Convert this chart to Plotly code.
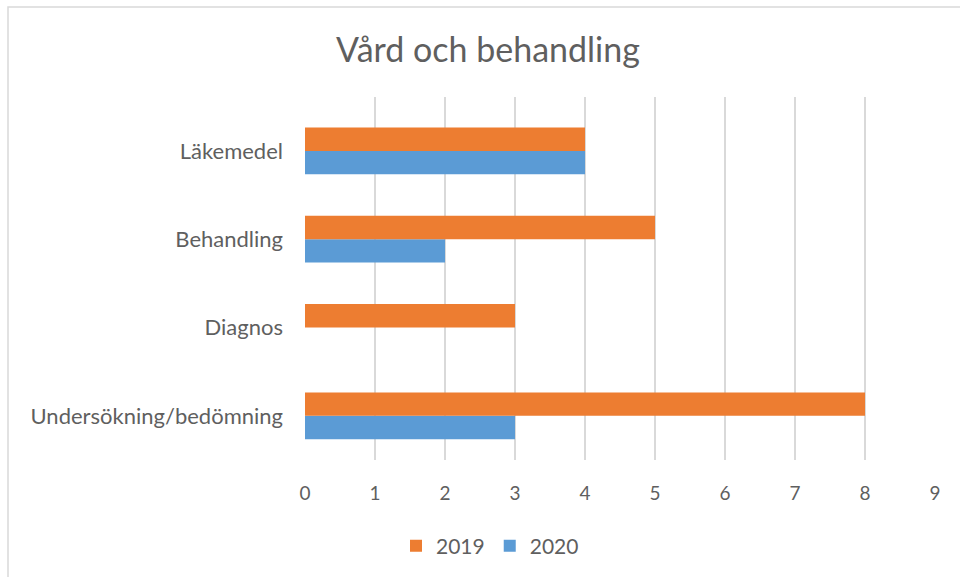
import plotly.graph_objects as go

categories = ["Undersökning/bedömning", "Diagnos", "Behandling", "Läkemedel"]
values_2019 = [8, 3, 5, 4]
values_2020 = [3, 0, 2, 4]
x_ticks = [0, 1, 2, 3, 4, 5, 6, 7, 8, 9]
title_text = "Vård och behandling"

FONT = "Lato"
GRAY = "#5f5f5f"

fig = go.Figure()
fig.add_trace(go.Bar(y=categories, x=values_2020, orientation="h", name="2020",
                     marker=dict(color="#5b9bd5", line=dict(width=0)), legendrank=2))
fig.add_trace(go.Bar(y=categories, x=values_2019, orientation="h", name="2019",
                     marker=dict(color="#ed7d31", line=dict(width=0)), legendrank=1))

W, H = 960, 577
L, R, T, B = 305, 25, 97, 117
pw, ph = W - L - R, H - T - B

def px(x):
    return (x - L) / pw

def py(y):
    return (H - B - y) / ph

fig.update_layout(
    width=W, height=H,
    margin=dict(l=L, r=R, t=T, b=B),
    paper_bgcolor="white", plot_bgcolor="white",
    barmode="group", bargap=0.47, bargroupgap=0,
    title=dict(text=title_text, x=488 / W, xanchor="center", y=1 - 50 / H, yanchor="middle",
               font=dict(family=FONT, size=34, color=GRAY)),
    xaxis=dict(range=[0, 9], tickvals=x_ticks, showgrid=True, gridcolor="#d9d9d9", gridwidth=2,
               zeroline=False, showline=False, ticks="",
               tickfont=dict(family=FONT, size=19, color=GRAY), ticklabelstandoff=20),
    yaxis=dict(range=[-0.5, 3.61], showgrid=False, zeroline=False, showline=False, ticks="",
               tickfont=dict(family=FONT, size=22, color=GRAY), ticklabelstandoff=21),
    legend=dict(orientation="h", x=490 / W, xanchor="center", y=1 - 546 / H, yanchor="middle",
                xref="container", yref="container",
                font=dict(family=FONT, size=21, color=GRAY), itemwidth=30),
    shapes=[dict(type="rect", xref="paper", yref="paper",
                 x0=px(8), x1=px(970), y0=py(590), y1=py(7),
                 line=dict(color="#d9d9d9", width=1.5), layer="below")],
)

fig.write_html("out.html", config={"displayModeBar": False},
               post_script="document.body.style.margin='0';")
